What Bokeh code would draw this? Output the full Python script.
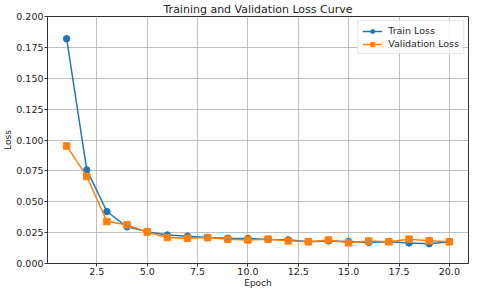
from bokeh.plotting import figure
from bokeh.models import FixedTicker, NumeralTickFormatter, Range1d, Legend, LegendItem
from bokeh.embed import file_html
from bokeh.resources import INLINE

epochs = list(range(1, 21))
train_loss = [0.182, 0.0758, 0.0421, 0.0297, 0.0258, 0.0231, 0.0221, 0.0210, 0.0205, 0.0202,
              0.0195, 0.0192, 0.0176, 0.0182, 0.0178, 0.0171, 0.0176, 0.0166, 0.0160, 0.0176]
val_loss = [0.0952, 0.0705, 0.0340, 0.0313, 0.0255, 0.0210, 0.0205, 0.0210, 0.0197, 0.0190,
            0.0197, 0.0184, 0.0176, 0.0190, 0.0168, 0.0182, 0.0176, 0.0197, 0.0184, 0.0176]
x_ticks = [2.5, 5.0, 7.5, 10.0, 12.5, 15.0, 17.5, 20.0]
y_ticks = [0.0, 0.025, 0.05, 0.075, 0.1, 0.125, 0.15, 0.175, 0.2]

FONT = "DejaVu Sans"
BLUE = "#1f77b4"
ORANGE = "#ff7f0e"

p = figure(frame_width=421, frame_height=247, output_backend="svg", toolbar_location=None,
           title="Training and Validation Loss Curve",
           x_range=Range1d(0.05, 20.95), y_range=Range1d(0.0, 0.2),
           min_border_left=42, min_border_right=1, min_border_top=0, min_border_bottom=0)

p.title.text_font = FONT
p.title.text_font_size = "11px"
p.title.text_font_style = "normal"
p.title.align = "center"
p.title.text_color = "#222222"
p.title.standoff = 1

p.background_fill_color = "white"
p.border_fill_color = "white"
p.outline_line_color = "#333333"
p.outline_line_width = 1

for ax in (p.xaxis[0], p.yaxis[0]):
    ax.axis_line_color = "#333333"
    ax.major_tick_line_color = "#333333"
    ax.major_tick_out = 3
    ax.major_tick_in = 0
    ax.minor_tick_line_color = None
    ax.major_label_text_font = FONT
    ax.major_label_text_font_size = "9.5px"
    ax.major_label_text_color = "#222222"
    ax.axis_label_text_font = FONT
    ax.axis_label_text_font_size = "9px"
    ax.axis_label_text_font_style = "normal"
    ax.axis_label_text_color = "#222222"
    ax.major_label_standoff = 1
    ax.axis_label_standoff = 0

p.xaxis.ticker = FixedTicker(ticks=x_ticks)
p.xaxis.formatter = NumeralTickFormatter(format="0.0")
p.yaxis.ticker = FixedTicker(ticks=y_ticks)
p.yaxis.formatter = NumeralTickFormatter(format="0.000")
p.xaxis.axis_label = "Epoch"
p.yaxis.axis_label = "Loss"

p.grid.grid_line_color = "#b0b0b0"
p.grid.grid_line_width = 1
p.grid.grid_line_alpha = 0.8

l1 = p.line(epochs, train_loss, line_color=BLUE, line_width=1.5)
s1 = p.scatter(epochs, train_loss, marker="circle", size=6.5, fill_color=BLUE, line_color=BLUE)
l2 = p.line(epochs, val_loss, line_color=ORANGE, line_width=1.5)
s2 = p.scatter(epochs, val_loss, marker="square", size=6.5, fill_color=ORANGE, line_color=ORANGE)

legend = Legend(items=[LegendItem(label="Train Loss", renderers=[l1, s1]),
                       LegendItem(label="Validation Loss", renderers=[l2, s2])],
                location="top_right")
legend.label_text_font = FONT
legend.label_text_font_size = "9.5px"
legend.label_text_color = "#222222"
legend.border_line_color = "#cccccc"
legend.border_line_width = 1
legend.background_fill_alpha = 0.8
legend.glyph_width = 20
legend.glyph_height = 10
legend.label_height = 10
legend.spacing = 2
legend.padding = 4
legend.margin = 4
legend.label_standoff = 6
p.add_layout(legend)

open("out.html", "w").write(file_html(p, INLINE))
